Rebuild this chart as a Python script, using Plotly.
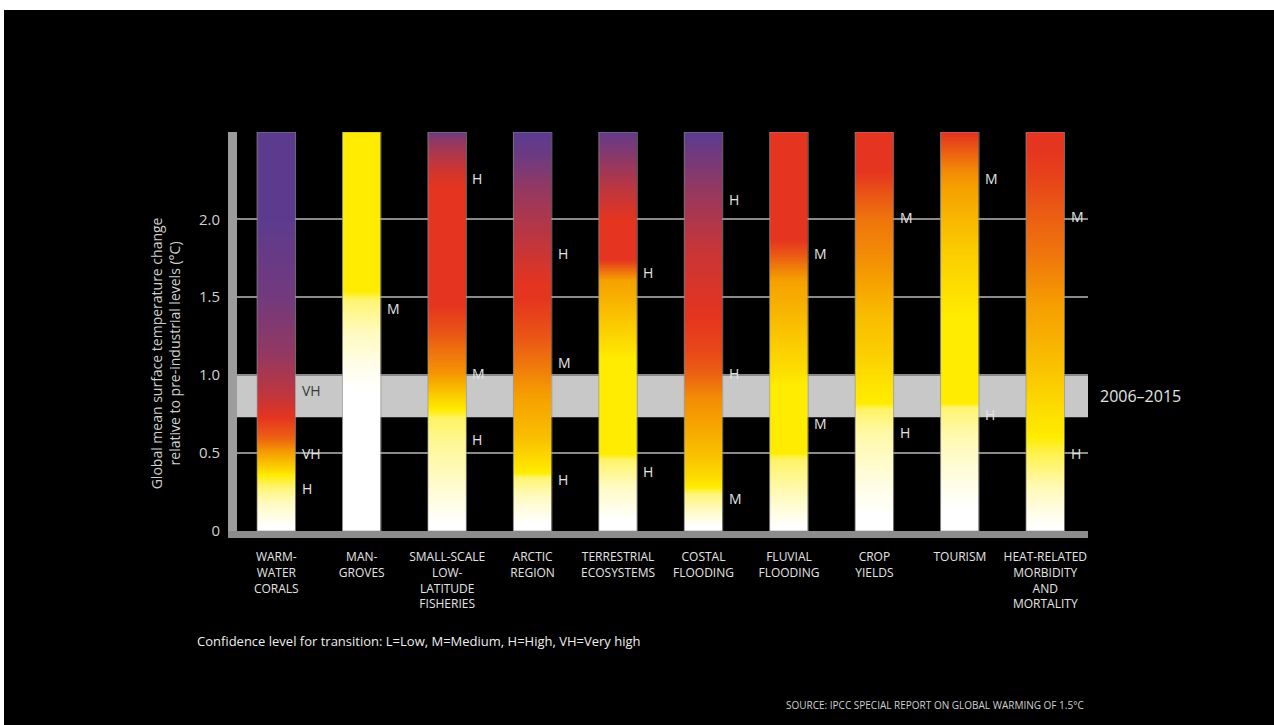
import numpy as np
import plotly.graph_objects as go

# ---------------- data ----------------
CATEGORIES = [
    "WARM-<br>WATER<br>CORALS",
    "MAN-<br>GROVES",
    "SMALL-SCALE<br>LOW-<br>LATITUDE<br>FISHERIES",
    "ARCTIC<br>REGION",
    "TERRESTRIAL<br>ECOSYSTEMS",
    "COSTAL<br>FLOODING",
    "FLUVIAL<br>FLOODING",
    "CROP<br>YIELDS",
    "TOURISM",
    "HEAT-RELATED<br>MORBIDITY<br>AND<br>MORTALITY",
]

# gradient stops per system: temperature (°C) and risk level
# (0 = undetectable, 1 = moderate, 2 = high, 3 = very high)
CORALS_T = [0.03, 0.18, 0.28, 0.36, 0.41, 0.50, 0.60, 0.73, 0.86, 0.97, 1.14, 1.36, 1.52, 1.78, 2.00]
CORALS_RISK = [0, 0.25, 0.55, 1, 1.2, 1.5, 1.8, 2, 2.25, 2.4, 2.6, 2.75, 2.85, 2.92, 3]

MANGROVES_T = [0.90, 1.05, 1.27, 1.48, 1.54]
MANGROVES_RISK = [0, 0.08, 0.25, 0.55, 1]

FISHERIES_T = [0.05, 0.30, 0.55, 0.72, 0.78, 1.01, 1.27, 1.45, 2.20, 2.31, 2.42, 2.51, 2.56]
FISHERIES_RISK = [0, 0.2, 0.4, 0.6, 1, 1.55, 1.85, 2, 2, 2.15, 2.4, 2.65, 2.9]

ARCTIC_T = [0.05, 0.22, 0.34, 0.37, 0.60, 0.86, 1.08, 1.25, 1.50, 1.58, 1.78, 2.00, 2.20, 2.42, 2.55]
ARCTIC_RISK = [0, 0.25, 0.55, 1, 1.3, 1.5, 1.7, 1.85, 2, 2, 2.2, 2.4, 2.6, 2.9, 3]

TERRESTRIAL_T = [0.07, 0.29, 0.46, 0.49, 1.10, 1.35, 1.61, 1.74, 2.00, 2.20, 2.42, 2.56]
TERRESTRIAL_RISK = [0, 0.25, 0.6, 1, 1, 1.25, 1.5, 2, 2, 2.3, 2.7, 2.95]

COASTAL_T = [0.03, 0.12, 0.24, 0.28, 0.37, 0.50, 0.71, 0.86, 1.01, 1.14, 1.37, 1.57, 1.78, 2.00, 2.20, 2.42, 2.55]
COASTAL_RISK = [0, 0.2, 0.55, 1, 1.15, 1.3, 1.5, 1.6, 1.8, 1.9, 2, 2.1, 2.2, 2.4, 2.6, 2.85, 3]

FLUVIAL_T = [0.02, 0.07, 0.29, 0.46, 0.50, 0.93, 1.04, 1.25, 1.46, 1.61, 1.78, 1.87]
FLUVIAL_RISK = [0, 0.05, 0.35, 0.6, 1, 1, 1.1, 1.25, 1.4, 1.5, 1.85, 2]

CROP_T = [0.10, 0.29, 0.50, 0.63, 0.78, 0.82, 0.93, 1.14, 1.36, 1.61, 1.78, 2.00, 2.16, 2.31]
CROP_RISK = [0, 0.1, 0.25, 0.35, 0.6, 1, 1.05, 1.2, 1.3, 1.5, 1.6, 1.7, 1.85, 2]

TOURISM_T = [0.15, 0.39, 0.60, 0.79, 0.82, 1.36, 1.57, 1.78, 2.00, 2.20, 2.31, 2.46, 2.55]
TOURISM_RISK = [0, 0.15, 0.3, 0.55, 1, 1, 1.1, 1.2, 1.35, 1.5, 1.6, 1.85, 2]

HEAT_T = [0.02, 0.12, 0.29, 0.39, 0.50, 0.60, 0.78, 1.01, 1.25, 1.52, 1.78, 2.01, 2.31, 2.45]
HEAT_RISK = [0, 0.1, 0.3, 0.5, 0.7, 1, 1.1, 1.25, 1.4, 1.55, 1.7, 1.8, 1.95, 2]

# confidence labels for transitions (position in °C, text)
CORALS_LABEL_T, CORALS_LABELS = [0.27, 0.50, 0.90], ["H", "VH", "VH"]
MANGROVES_LABEL_T, MANGROVES_LABELS = [1.43], ["M"]
FISHERIES_LABEL_T, FISHERIES_LABELS = [0.585, 1.01, 2.26], ["H", "M", "H"]
ARCTIC_LABEL_T, ARCTIC_LABELS = [0.33, 1.08, 1.78], ["H", "M", "H"]
TERRESTRIAL_LABEL_T, TERRESTRIAL_LABELS = [0.38, 1.66], ["H", "H"]
COASTAL_LABEL_T, COASTAL_LABELS = [0.21, 1.01, 2.13], ["M", "H", "H"]
FLUVIAL_LABEL_T, FLUVIAL_LABELS = [0.69, 1.78], ["M", "M"]
CROP_LABEL_T, CROP_LABELS = [0.63, 2.01], ["H", "M"]
TOURISM_LABEL_T, TOURISM_LABELS = [0.75, 2.26], ["H", "M"]
HEAT_LABEL_T, HEAT_LABELS = [0.50, 2.02], ["H", "M"]

Y_TICKS = [0, 0.5, 1.0, 1.5, 2.0]
Y_TICK_TEXT = ["0", "0.5", "1.0", "1.5", "2.0"]
Y_MAX = 2.56
OBS_PERIOD = [0.73, 1.0]
OBS_LABEL = "2006\u20132015"

Y_TITLE = "Global mean surface temperature change<br>relative to pre-industrial levels (\u00b0C)"
FOOTNOTE = "Confidence level for transition: L=Low, M=Medium, H=High, VH=Very high"
SOURCE = "SOURCE: IPCC SPECIAL REPORT ON GLOBAL WARMING OF 1.5\u00b0C"

RISK_COLORS = [
    [0.0, "#FFFFFF"],
    [1 / 3, "#FFEC00"],
    [0.5, "#F6A000"],
    [2 / 3, "#E5341F"],
    [1.0, "#5C3B8F"],
]

# ---------------- figure ----------------
STOPS = [
    (CORALS_T, CORALS_RISK), (MANGROVES_T, MANGROVES_RISK), (FISHERIES_T, FISHERIES_RISK),
    (ARCTIC_T, ARCTIC_RISK), (TERRESTRIAL_T, TERRESTRIAL_RISK), (COASTAL_T, COASTAL_RISK),
    (FLUVIAL_T, FLUVIAL_RISK), (CROP_T, CROP_RISK), (TOURISM_T, TOURISM_RISK), (HEAT_T, HEAT_RISK),
]
LABELS = [
    (CORALS_LABEL_T, CORALS_LABELS), (MANGROVES_LABEL_T, MANGROVES_LABELS),
    (FISHERIES_LABEL_T, FISHERIES_LABELS), (ARCTIC_LABEL_T, ARCTIC_LABELS),
    (TERRESTRIAL_LABEL_T, TERRESTRIAL_LABELS), (COASTAL_LABEL_T, COASTAL_LABELS),
    (FLUVIAL_LABEL_T, FLUVIAL_LABELS), (CROP_LABEL_T, CROP_LABELS),
    (TOURISM_LABEL_T, TOURISM_LABELS), (HEAT_LABEL_T, HEAT_LABELS),
]

BAR_W = 0.45
FONT = "Open Sans, Lato, sans-serif"

fig = go.Figure()

y_edges = np.linspace(0, Y_MAX, 513)
y_mid = (y_edges[:-1] + y_edges[1:]) / 2
for i, (t, r) in enumerate(STOPS):
    z = np.interp(y_mid, t, r).reshape(-1, 1)
    fig.add_trace(go.Heatmap(
        x=[i - BAR_W / 2, i + BAR_W / 2], y=y_edges, z=z,
        zmin=0, zmax=3, colorscale=RISK_COLORS, showscale=False,
        hoverinfo="skip",
    ))

fig.add_trace(go.Bar(
    x=list(range(len(CATEGORIES))), y=[Y_MAX] * len(CATEGORIES), width=BAR_W,
    marker=dict(color="rgba(0,0,0,0)", line=dict(color="rgba(150,150,150,0.7)", width=1)),
    hoverinfo="skip", showlegend=False,
))

annotations = []
for i, (lt, lab) in enumerate(LABELS):
    for yv, txt in zip(lt, lab):
        inside_band = i == 0 and OBS_PERIOD[0] < yv < OBS_PERIOD[1]
        annotations.append(dict(
            x=i + BAR_W / 2, y=yv, xref="x", yref="y", text=txt, showarrow=False,
            xanchor="left", yanchor="middle", xshift=4,
            font=dict(family=FONT, size=14, color="#3a3a3a" if inside_band else "#e4e4e4"),
        ))

annotations += [
    dict(x=1, y=sum(OBS_PERIOD) / 2, xref="paper", yref="y", text=OBS_LABEL,
         showarrow=False, xanchor="left", yanchor="middle", xshift=10,
         font=dict(family=FONT, size=16, color="#e4e4e4")),
    dict(x=0, y=1.14, xref="paper", yref="y", text=Y_TITLE, textangle=-90,
         showarrow=False, xanchor="center", yanchor="middle", xshift=-72,
         font=dict(family=FONT, size=14, color="#d0d0d0")),
    dict(x=0, y=0, xref="paper", yref="paper", text=FOOTNOTE, showarrow=False,
         xanchor="left", yanchor="middle", xshift=-42, yshift=-110,
         font=dict(family=FONT, size=13, color="#eeeeee")),
    dict(x=1, y=0, xref="paper", yref="paper", text=SOURCE, showarrow=False,
         xanchor="right", yanchor="middle", xshift=-2, yshift=-174,
         font=dict(family=FONT, size=10, color="#d0d0d0")),
]

shapes = [
    dict(type="rect", xref="paper", yref="y", x0=0, x1=1,
         y0=OBS_PERIOD[0], y1=OBS_PERIOD[1], fillcolor="#C8C8C8",
         line=dict(width=0), layer="below"),
    # white frame edges of the original picture
    dict(type="rect", xref="paper", yref="paper", x0=-1, x1=2,
         ysizemode="pixel", yanchor=1, y0=122, y1=140,
         fillcolor="white", line=dict(width=0), layer="above"),
    dict(type="rect", xref="paper", yref="paper", y0=-2, y1=3,
         xsizemode="pixel", xanchor=0, x0=-240, x1=-233,
         fillcolor="white", line=dict(width=0), layer="above"),
]

fig.update_layout(
    width=1274, height=725,
    margin=dict(l=237, r=186, t=132, b=194),
    paper_bgcolor="black", plot_bgcolor="black",
    showlegend=False,
    annotations=annotations, shapes=shapes,
    font=dict(family=FONT, color="#e0e0e0"),
    xaxis=dict(
        range=[-0.46, 9.5], tickvals=list(range(len(CATEGORIES))), ticktext=CATEGORIES,
        showgrid=False, zeroline=False, showline=True, linewidth=7, linecolor="#8c8c8c",
        ticks="", tickfont=dict(family=FONT, size=12, color="#e4e4e4"),
        ticklabelstandoff=9, fixedrange=True,
    ),
    yaxis=dict(
        range=[0, Y_MAX], tickvals=Y_TICKS, ticktext=Y_TICK_TEXT,
        showgrid=True, gridcolor="#8a8a8a", gridwidth=1.5, zeroline=False,
        showline=True, linewidth=9, linecolor="#9c9c9c",
        ticks="", tickfont=dict(family=FONT, size=15, color="#d0d0d0"),
        ticklabelstandoff=5, fixedrange=True,
    ),
)

fig.write_html("out.html", config={"displayModeBar": False},
               post_script="document.body.style.margin='0';")
